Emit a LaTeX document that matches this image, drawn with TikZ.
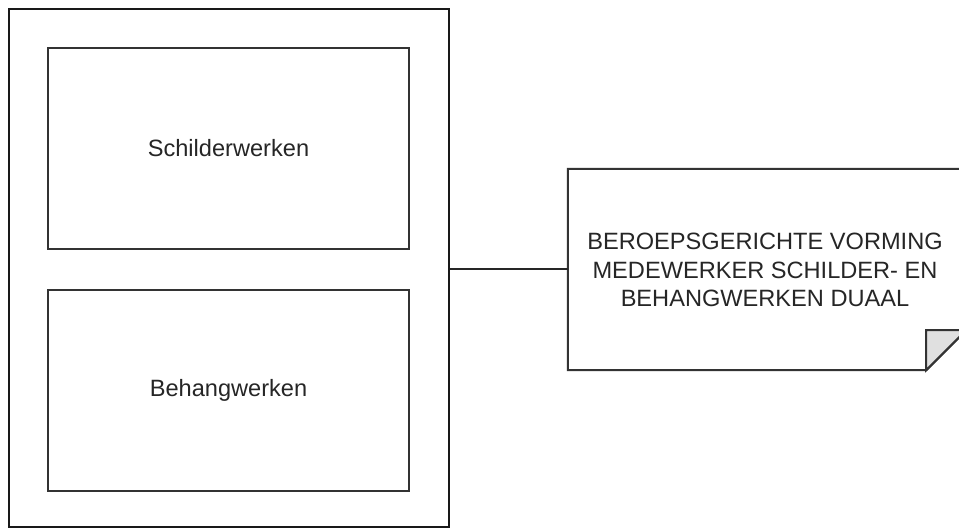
\documentclass[tikz,border=0pt]{standalone}
\usepackage{fontspec}
\setmainfont{Liberation Sans}
\usetikzlibrary{calc}
\tikzset{
  frame/.style={draw=black!90, line width=2pt},
  task/.style={draw=black!80, line width=2pt, minimum width=361pt, minimum height=201pt, inner sep=0pt},
  lbl/.style={text=black!85, font=\fontsize{23.6}{28.3}\selectfont, align=center}
}
\begin{document}
\begin{tikzpicture}[x=1pt,y=-1pt]
\clip (0,0) rectangle (959,529);
\fill[white] (0,0) rectangle (959,529);
% outer frame with the two parts
\node[frame, minimum width=440pt, minimum height=518pt, inner sep=0pt] (outer) at (229,268) {};
\node[task, lbl] (schilder) at (228.5,148.5) {Schilderwerken};
\node[task, lbl] (behang) at (228.5,390.5) {Behangwerken};

% note with folded corner
\node[minimum width=398pt, minimum height=201pt, inner sep=0pt] (note) at (767,269.5) {};
\draw[frame, draw=black!80, fill=white] (note.north west) -- (note.north east) -- ($(note.south east)+(0,-40)$)
  -- ($(note.south east)+(-40,0)$) -- (note.south west) -- cycle;
\draw[frame, draw=black!80, fill=black!12] ($(note.south east)+(-40,0)$) -- ($(note.south east)+(-40,-40)$)
  -- ($(note.south east)+(0,-40)$) -- cycle;
\node[lbl] (opl) at (765,270) {BEROEPSGERICHTE VORMING\\MEDEWERKER SCHILDER- EN\\BEHANGWERKEN DUAAL};

\draw[frame, draw=black!85] (outer.east |- note.west) -- (note.west);
\end{tikzpicture}
\end{document}
